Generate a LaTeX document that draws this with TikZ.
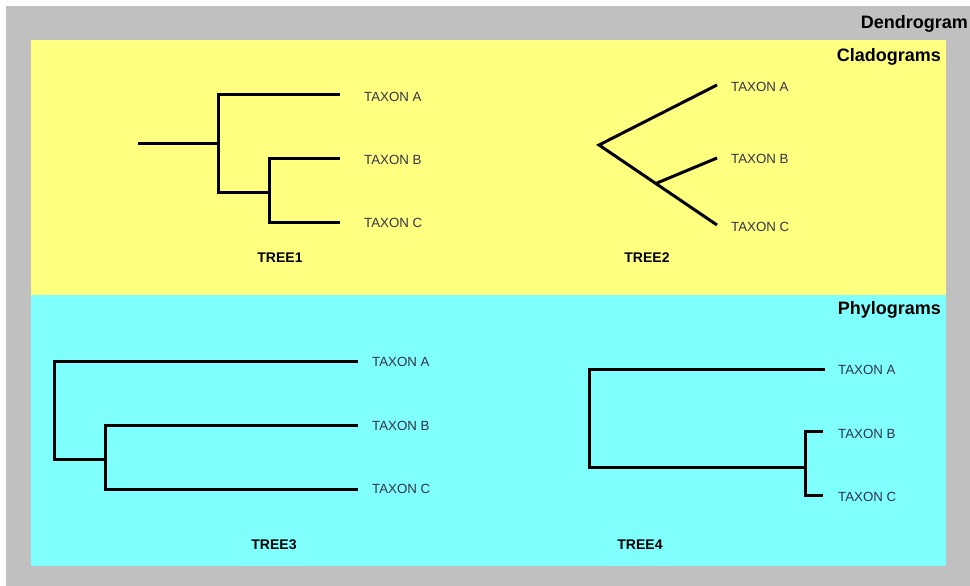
\documentclass[tikz,border=0pt]{standalone}
\usepackage{fontspec}
\setmainfont{Liberation Sans}
\definecolor{grayfr}{HTML}{C0C0C0}
\definecolor{yel}{HTML}{FFFF80}
\definecolor{cya}{HTML}{80FFFF}
\definecolor{txt}{HTML}{33334A}
\tikzset{
  branch/.style={line width=3pt, line cap=butt, line join=miter},
  taxon/.style={anchor=west, inner sep=0pt, text=txt, font=\fontsize{13.3}{13}\selectfont},
  treelbl/.style={inner sep=0pt, font=\bfseries\fontsize{14}{14}\selectfont},
  paneltitle/.style={anchor=east, inner sep=0pt, font=\bfseries\fontsize{18}{18}\selectfont}
}
\begin{document}
\begin{tikzpicture}[x=1pt,y=-1pt]
\useasboundingbox (0,0) rectangle (970,586);
\fill[white] (0,0) rectangle (970,586);
\fill[grayfr] (6,6) rectangle (970,586);
\fill[yel] (31,40) rectangle (946,295);
\fill[cya] (31,295) rectangle (946,566);
\node[paneltitle] (dend) at (968,24) {Dendrogram};
\node[paneltitle] (clad) at (941,57) {Cladograms};
\node[paneltitle] (phyl) at (941,310) {Phylograms};

% TREE1
\coordinate (t1r) at (138,143);
\coordinate (t1n1) at (218,143);
\coordinate (t1n2) at (269,192);
\node[taxon] (t1a) at (364,97) {TAXON A};
\node[taxon] (t1b) at (364,160) {TAXON B};
\node[taxon] (t1c) at (364,223) {TAXON C};
\node[treelbl] (tree1) at (280,258) {TREE1};
\draw[branch] (t1r) -- (t1n1);
\draw[branch] (340,95) -| (t1n1) |- (t1n2);
\draw[branch] (340,158) -| (t1n2) |- (340,222);

% TREE2
\coordinate (t2r) at (599,145);
\coordinate (t2a) at (717,85);
\coordinate (t2c) at (717,225);
\coordinate (t2m) at (657,183);
\coordinate (t2b) at (717,158);
\node[taxon] (l2a) at (731,87) {TAXON A};
\node[taxon] (l2b) at (731,159) {TAXON B};
\node[taxon] (l2c) at (731,227) {TAXON C};
\node[treelbl] (tree2) at (647,258) {TREE2};
\draw[branch] (t2a) -- (t2r) -- (t2c);
\draw[branch] (t2m) -- (t2b);

% TREE3
\coordinate (t3n1) at (54,459);
\coordinate (t3n2) at (105,459);
\node[taxon] (l3a) at (372,362) {TAXON A};
\node[taxon] (l3b) at (372,426) {TAXON B};
\node[taxon] (l3c) at (372,489) {TAXON C};
\node[treelbl] (tree3) at (274,545) {TREE3};
\draw[branch] (358,361) -| (t3n1) -- (t3n2);
\draw[branch] (358,425) -| (t3n2) |- (358,489);

% TREE4
\coordinate (t4n1) at (589,467);
\coordinate (t4n2) at (805,467);
\node[taxon] (l4a) at (838,370) {TAXON A};
\node[taxon] (l4b) at (838,434) {TAXON B};
\node[taxon] (l4c) at (838,497) {TAXON C};
\node[treelbl] (tree4) at (640,545) {TREE4};
\draw[branch] (825,369) -| (t4n1) -- (t4n2);
\draw[branch] (823,431) -| (t4n2) |- (823,495);
\end{tikzpicture}
\end{document}
